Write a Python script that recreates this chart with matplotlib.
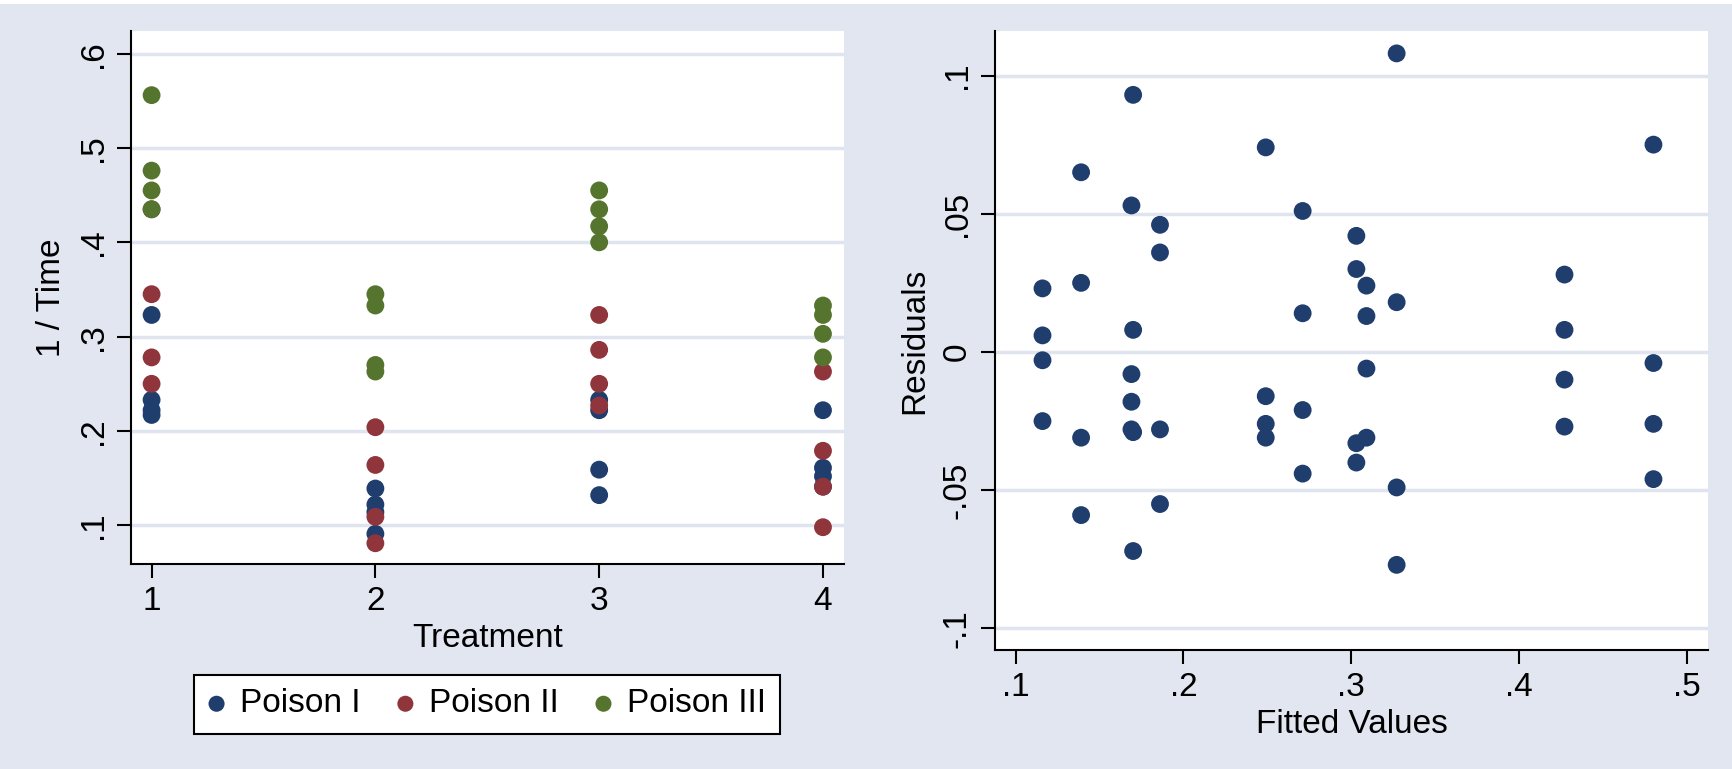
import numpy as np
import matplotlib.pyplot as plt
from matplotlib.patches import Rectangle

# 1 / Time by treatment, one list per poison
treatment = [1, 1, 1, 1, 2, 2, 2, 2, 3, 3, 3, 3, 4, 4, 4, 4]
poison_1 = [0.323, 0.222, 0.217, 0.233, 0.122, 0.091, 0.114, 0.139,
            0.233, 0.222, 0.159, 0.132, 0.222, 0.141, 0.152, 0.161]
poison_2 = [0.278, 0.345, 0.250, 0.435, 0.109, 0.164, 0.204, 0.081,
            0.227, 0.286, 0.323, 0.250, 0.179, 0.098, 0.141, 0.263]
poison_3 = [0.455, 0.476, 0.556, 0.435, 0.333, 0.270, 0.263, 0.345,
            0.435, 0.400, 0.417, 0.455, 0.333, 0.278, 0.323, 0.303]
series_names = ["Poison I", "Poison II", "Poison III"]

# residuals vs fitted values
fitted = [0.249] * 4 + [0.116] * 4 + [0.186] * 4 + [0.169] * 4 + \
         [0.327] * 4 + [0.139] * 4 + [0.271] * 4 + [0.170] * 4 + \
         [0.480] * 4 + [0.303] * 4 + [0.427] * 4 + [0.309] * 4
residuals = [0.074, -0.026, -0.031, -0.016, 0.006, -0.025, -0.003, 0.023,
             0.046, 0.036, -0.028, -0.055, 0.053, -0.028, -0.018, -0.008,
             -0.049, 0.018, -0.077, 0.108, -0.031, 0.025, 0.065, -0.059,
             -0.044, 0.014, 0.051, -0.021, 0.008, -0.072, -0.029, 0.093,
             -0.026, -0.004, 0.075, -0.046, 0.030, -0.033, -0.040, 0.042,
             0.008, -0.027, -0.010, 0.028, 0.024, -0.031, 0.013, -0.006]

left_yticks = [0.1, 0.2, 0.3, 0.4, 0.5, 0.6]
left_ylabels = [".1", ".2", ".3", ".4", ".5", ".6"]
right_xticks = [0.1, 0.2, 0.3, 0.4, 0.5]
right_xlabels = [".1", ".2", ".3", ".4", ".5"]
right_yticks = [-0.1, -0.05, 0, 0.05, 0.1]
right_ylabels = ["-.1", "-.05", "0", ".05", ".1"]

bg = "#e1e6f0"
grid_c = "#dfe4ef"
colors = ["#1f3d6d", "#8f353b", "#55752f"]
fs = 24
plt.rcParams['font.family'] = ['Liberation Sans', 'DejaVu Sans']

W, H = 1732, 769
fig = plt.figure(figsize=(W / 100, H / 100), dpi=100, facecolor=bg)
fig.patches.append(Rectangle((0, 1 - 4 / H), 1, 4 / H, transform=fig.transFigure,
                             facecolor="white", edgecolor="none", zorder=0))


def px_axes(x0, y0, x1, y1):
    return fig.add_axes([x0 / W, 1 - y1 / H, (x1 - x0) / W, (y1 - y0) / H])


def style(ax):
    ax.set_facecolor("white")
    for s in ["top", "right"]:
        ax.spines[s].set_visible(False)
    for s in ["left", "bottom"]:
        ax.spines[s].set_linewidth(1.5)
    ax.tick_params(length=10, width=1.5, labelsize=fs, pad=6)
    ax.yaxis.grid(True, color=grid_c, linewidth=2.5)
    ax.set_axisbelow(True)


# left panel
ax1 = px_axes(131, 31, 844, 564)
style(ax1)
for vals, c, name in zip([poison_1, poison_2, poison_3], colors, series_names):
    ax1.scatter(treatment, vals, s=165, color=c, edgecolors="none", label=name, zorder=3)
ax1.set_xlim(0.908, 4.094)
ax1.set_ylim(0.059, 0.624)
ax1.set_xticks([1, 2, 3, 4])
ax1.set_yticks(left_yticks)
ax1.set_yticklabels(left_ylabels, rotation=90, va="center")
ax1.set_xlabel("Treatment", fontsize=fs, labelpad=4)
ax1.set_ylabel("1 / Time", fontsize=fs, labelpad=8)
leg = ax1.legend(loc="center", bbox_to_anchor=((487 - 131) / 713, -(704 - 564) / 533),
                 ncol=3, fontsize=fs, frameon=True, fancybox=False, framealpha=1,
                 handlelength=0.5, handletextpad=0.45, columnspacing=1.1,
                 borderpad=0.42, markerscale=0.9)
leg.get_frame().set_edgecolor("black")
leg.get_frame().set_linewidth(1.5)

# right panel
ax2 = px_axes(995, 31, 1708, 650)
style(ax2)
ax2.scatter(fitted, residuals, s=165, color=colors[0], edgecolors="none", zorder=3)
ax2.set_xlim(0.0877, 0.5125)
ax2.set_ylim(-0.1078, 0.1161)
ax2.set_xticks(right_xticks)
ax2.set_xticklabels(right_xlabels)
ax2.set_yticks(right_yticks)
ax2.set_yticklabels(right_ylabels, rotation=90, va="center")
ax2.set_xlabel("Fitted Values", fontsize=fs, labelpad=4)
ax2.set_ylabel("Residuals", fontsize=fs, labelpad=8)

fig.savefig("out.png", dpi=100, facecolor=bg)
